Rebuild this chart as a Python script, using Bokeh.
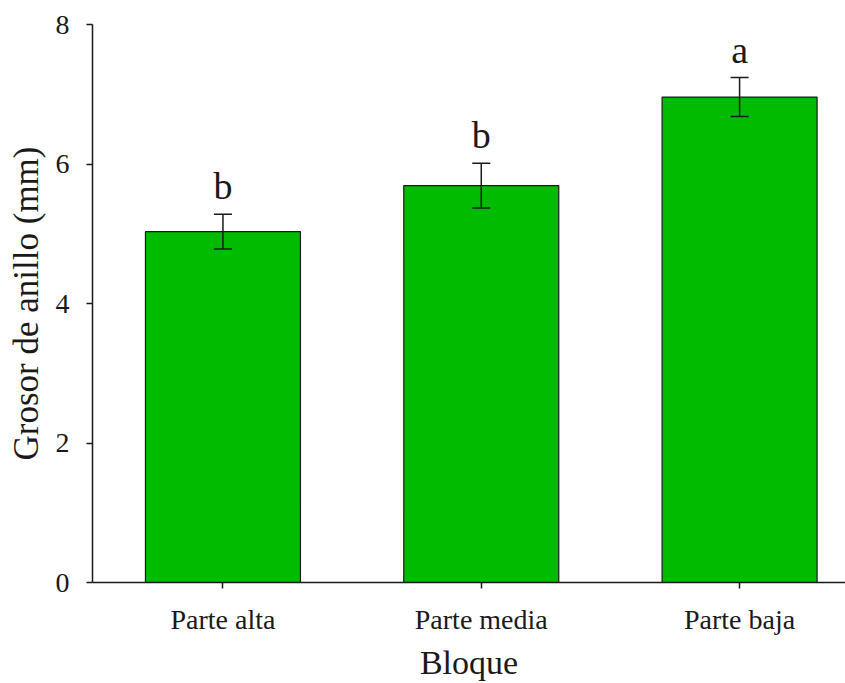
from bokeh.plotting import figure
from bokeh.models import ColumnDataSource, Range1d, FixedTicker, Whisker, TeeHead
from bokeh.core.properties import value
from bokeh.embed import file_html
from bokeh.resources import INLINE

categories = ["Parte alta", "Parte media", "Parte baja"]
means = [5.03, 5.69, 6.96]
errors = [0.25, 0.32, 0.28]
letters = ["b", "b", "a"]
y_ticks = [0, 2, 4, 6, 8]

xs = list(range(len(categories)))
src = ColumnDataSource(dict(
    x=xs, top=means,
    upper=[m + e for m, e in zip(means, errors)],
    lower=[m - e for m, e in zip(means, errors)],
    letter=letters,
))

FONT = "Liberation Serif"

p = figure(width=845, height=683, output_backend="svg", toolbar_location=None,
           x_range=Range1d(-0.505, 2.41), y_range=Range1d(0, 8),
           min_border_left=92, min_border_top=24, min_border_bottom=101, min_border_right=0)
p.outline_line_color = None
p.grid.visible = False
p.background_fill_color = "white"
p.border_fill_color = "white"

p.vbar(x="x", top="top", bottom=0, width=0.6, source=src,
       fill_color="#00BB00", line_color="#1a1a1a", line_width=1.2)

w = Whisker(base="x", upper="upper", lower="lower", source=src,
            line_color="#1a1a1a", line_width=1.5, level="overlay",
            upper_head=TeeHead(size=18, line_color="#1a1a1a", line_width=1.5),
            lower_head=TeeHead(size=18, line_color="#1a1a1a", line_width=1.5))
p.add_layout(w)

p.text(x="x", y="upper", text="letter", source=src, text_align="center",
       text_baseline="alphabetic", y_offset=-28, text_font=value(FONT),
       text_font_size="38px", text_color="#1a1a1a")

p.xaxis.ticker = FixedTicker(ticks=xs)
p.xaxis.major_label_overrides = {i: c for i, c in enumerate(categories)}
p.yaxis.ticker = FixedTicker(ticks=y_ticks)

p.xaxis.axis_label = "Bloque"
p.yaxis.axis_label = "Grosor de anillo (mm)"

for ax in (p.xaxis, p.yaxis):
    ax.axis_line_color = "#1a1a1a"
    ax.axis_line_width = 1.5
    ax.major_tick_line_color = "#1a1a1a"
    ax.major_tick_line_width = 1.5
    ax.major_tick_out = 6
    ax.major_tick_in = 0
    ax.minor_tick_line_color = None
    ax.major_label_text_font = FONT
    ax.major_label_text_font_size = "28px"
    ax.major_label_text_color = "#1a1a1a"
    ax.axis_label_text_font = FONT
    ax.axis_label_text_font_style = "normal"
    ax.axis_label_text_color = "#1a1a1a"

p.xaxis.axis_label_text_font_size = "34px"
p.yaxis.axis_label_text_font_size = "35px"
p.xaxis.major_label_standoff = 15
p.xaxis.axis_label_standoff = 6
p.yaxis.major_label_standoff = 17
p.yaxis.axis_label_standoff = 7

open("out.html", "w").write(file_html(p, INLINE))
